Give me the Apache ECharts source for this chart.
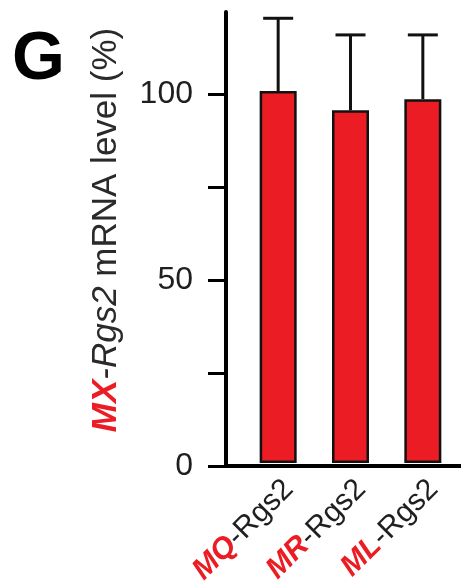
<!DOCTYPE html>
<html>
<head>
<meta charset="utf-8">
<script src="https://cdn.jsdelivr.net/npm/echarts@6/dist/echarts.min.js"></script>
<style>
  html, body { margin: 0; padding: 0; background: #fff; }
  #chart { width: 461px; height: 588px; }
</style>
</head>
<body>
<div id="chart"></div>
<script>
'use strict';
// 数据
var categories = ['MQ', 'MR', 'ML'];     // 红色前缀，后面都是 -Rgs2
var means = [100.6, 95.4, 98.4];
var errors = [19.7, 20.4, 17.4];         // 只画上误差
var yTicks = [0, 25, 50, 75, 100];
var yLabels = [0, 50, 100];
var yMax = 122;

var RED = '#ec1c24';
var INK = '#1f1f1f';
var FONT = 'Liberation Sans, Arial, sans-serif';

var chart = echarts.init(document.getElementById('chart'));

var option = {
    animation: false,
    backgroundColor: '#fff',
    textStyle: { fontFamily: FONT },
    graphic: [{
        type: 'text',
        left: 12,
        top: 26,
        style: { text: 'G', font: 'bold 68px ' + FONT, fill: '#000' }
    }],
    grid: [
        // 柱子所在
        { left: 242, right: 2, top: 12, bottom: 122 },
        // 坐标轴所在
        { left: 226, right: 0, top: 12, bottom: 122 }
    ],
    xAxis: [{
        type: 'category',
        gridIndex: 0,
        data: categories,
        axisLine: { show: false },
        axisTick: { show: false },
        axisLabel: {
            rotate: 45,
            margin: 11,
            verticalAlign: 'top',
            interval: 0,
            formatter: function (v) {
                return '{r|' + v + '}{i|-Rgs2}';
            },
            rich: {
                r: { color: RED, fontWeight: 'bold', fontStyle: 'italic', fontSize: 30, fontFamily: FONT },
                i: { color: INK, fontSize: 30, fontFamily: FONT }
            }
        }
    }, {
        type: 'value',
        gridIndex: 1,
        min: 0,
        max: 1,
        axisLine: { show: true, lineStyle: { color: '#000', width: 4 } },
        axisTick: { show: false },
        axisLabel: { show: false },
        splitLine: { show: false }
    }],
    yAxis: [{
        type: 'value',
        gridIndex: 0,
        min: 0,
        max: yMax,
        show: false
    }, {
        type: 'value',
        gridIndex: 1,
        min: 0,
        max: yMax,
        splitLine: { show: false },
        axisLine: { show: true, lineStyle: { color: '#000', width: 4 } },
        axisTick: {
            show: true,
            length: 18,
            customValues: yTicks,
            lineStyle: { color: '#000', width: 3 }
        },
        axisLabel: {
            customValues: yLabels,
            margin: 33,
            color: INK,
            fontSize: 32,
            fontFamily: FONT
        },
        name: '{r|MX}{i|-Rgs2}{n| mRNA level (%)}',
        nameLocation: 'middle',
        nameGap: 102,
        nameTextStyle: {
            padding: [0, 0, 0, 18],
            rich: {
                r: { color: RED, fontWeight: 'bold', fontStyle: 'italic', fontSize: 35, fontFamily: FONT },
                i: { color: '#2a2a2a', fontStyle: 'italic', fontSize: 35, fontFamily: FONT },
                n: { color: '#2a2a2a', fontSize: 35, fontFamily: FONT }
            }
        }
    }],
    series: [{
        type: 'bar',
        xAxisIndex: 0,
        yAxisIndex: 0,
        data: means,
        barWidth: 37,
        itemStyle: { color: RED, borderColor: '#111', borderWidth: 2.5 },
        z: 2
    }, {
        type: 'custom',
        xAxisIndex: 0,
        yAxisIndex: 0,
        data: means.map(function (m, i) { return [i, m, m + errors[i]]; }),
        z: 3,
        renderItem: function (params, api) {
            var base = api.coord([api.value(0), api.value(1)]);
            var top = api.coord([api.value(0), api.value(2)]);
            var half = 15;
            var style = { stroke: '#111', lineWidth: 3, fill: null };
            return {
                type: 'group',
                children: [{
                    type: 'line',
                    shape: { x1: top[0], y1: base[1], x2: top[0], y2: top[1] },
                    style: style
                }, {
                    type: 'line',
                    shape: { x1: top[0] - half, y1: top[1], x2: top[0] + half, y2: top[1] },
                    style: style
                }]
            };
        }
    }]
};

chart.setOption(option);
</script>
</body>
</html>
